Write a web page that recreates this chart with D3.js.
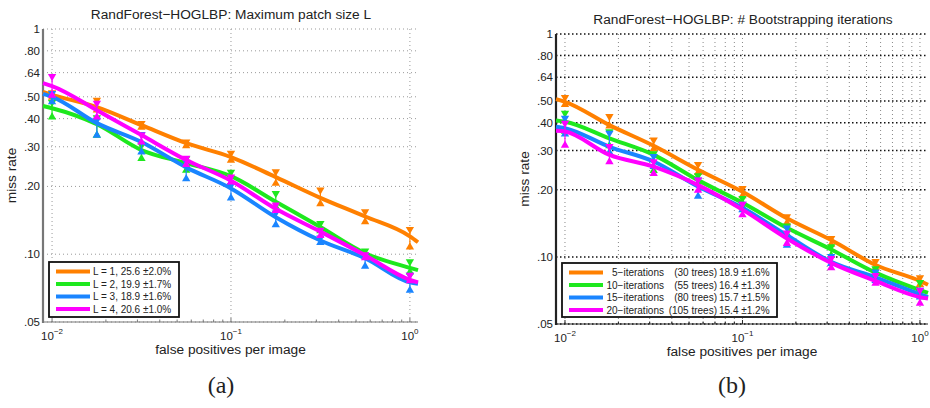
<!DOCTYPE html>
<html><head><meta charset="utf-8">
<script src="https://cdn.jsdelivr.net/npm/d3@7"></script>
<style>body{margin:0;background:#fff}svg{display:block}</style>
</head><body>
<svg id="chart" width="930" height="408"></svg>
<script>
// ---------- data ----------
const curveX = [0.0089, 0.01, 0.0178, 0.0316, 0.0562, 0.1, 0.178, 0.316, 0.562, 1, 1.11];
const markerX = [0.01, 0.0178, 0.0316, 0.0562, 0.1, 0.178, 0.316, 0.562, 1];
const yTicks = [1, 0.8, 0.64, 0.5, 0.4, 0.3, 0.2, 0.1, 0.05];
const yTickLabels = ["1", ".80", ".64", ".50", ".40", ".30", ".20", ".10", ".05"];
const xTicks = [0.01, 0.1, 1];
const xTickExp = ["\u22122", "\u22121", "0"];
const colors = ["#ff8000", "#1ee81e", "#1a85ff", "#ff00ff"];

// Panel (a): Maximum patch size L
const titleA = "RandForest\u2212HOGLBP: Maximum patch size L";
const legendA = ["L = 1, 25.6 \u00b12.0%", "L = 2, 19.9 \u00b11.7%", "L = 3, 18.9 \u00b11.6%", "L = 4, 20.6 \u00b11.0%"];
const aL1 = [0.525, 0.51, 0.45, 0.374, 0.311, 0.27, 0.22, 0.178, 0.147, 0.12, 0.113];
const aL2 = [0.455, 0.445, 0.378, 0.29, 0.254, 0.222, 0.171, 0.132, 0.101, 0.087, 0.085];
const aL3 = [0.515, 0.5, 0.382, 0.315, 0.243, 0.196, 0.146, 0.115, 0.096, 0.075, 0.074];
const aL4 = [0.575, 0.558, 0.436, 0.338, 0.262, 0.212, 0.159, 0.126, 0.099, 0.077, 0.075];
const aL1Hi = [0.53, 0.49, 0.387, 0.32, 0.285, 0.236, 0.196, 0.157, 0.131];
const aL1Lo = [0.49, 0.43, 0.36, 0.298, 0.257, 0.203, 0.165, 0.137, 0.106];
const aL2Hi = [0.48, 0.41, 0.31, 0.27, 0.235, 0.189, 0.139, 0.105, 0.094];
const aL2Lo = [0.40, 0.332, 0.262, 0.232, 0.205, 0.16, 0.125, 0.097, 0.082];
const aL3Hi = [0.525, 0.40, 0.346, 0.26, 0.205, 0.155, 0.12, 0.1, 0.082];
const aL3Lo = [0.467, 0.332, 0.28, 0.213, 0.175, 0.133, 0.111, 0.087, 0.068];
const aL4Hi = [0.625, 0.476, 0.344, 0.271, 0.224, 0.168, 0.13, 0.101, 0.082];
const aL4Lo = [0.50, 0.40, 0.31, 0.246, 0.206, 0.154, 0.119, 0.095, 0.075];

// Panel (b): # Bootstrapping iterations
const titleB = "RandForest\u2212HOGLBP: # Bootstrapping iterations";
const legendBIter = ["5\u2212iterations", "10\u2212iterations", "15\u2212iterations", "20\u2212iterations"];
const legendBTrees = ["(30 trees)", "(55 trees)", "(80 trees)", "(105 trees)"];
const legendBScore = ["18.9 \u00b11.6%", "16.4 \u00b11.3%", "15.7 \u00b11.5%", "15.4 \u00b11.2%"];
const bI5 = [0.51, 0.496, 0.39, 0.315, 0.246, 0.196, 0.149, 0.119, 0.092, 0.078, 0.075];
const bI10 = [0.409, 0.404, 0.34, 0.287, 0.221, 0.175, 0.135, 0.108, 0.085, 0.071, 0.069];
const bI15 = [0.384, 0.378, 0.312, 0.268, 0.207, 0.166, 0.125, 0.095, 0.081, 0.068, 0.066];
const bI20 = [0.368, 0.365, 0.287, 0.254, 0.21, 0.163, 0.121, 0.094, 0.078, 0.066, 0.065];
const bI5Hi = [0.527, 0.433, 0.34, 0.264, 0.206, 0.154, 0.123, 0.097, 0.082];
const bI5Lo = [0.475, 0.38, 0.30, 0.235, 0.185, 0.14, 0.112, 0.088, 0.074];
const bI10Hi = [0.448, 0.37, 0.295, 0.235, 0.186, 0.14, 0.113, 0.09, 0.078];
const bI10Lo = [0.36, 0.31, 0.24, 0.21, 0.165, 0.125, 0.1, 0.08, 0.068];
const bI15Hi = [0.426, 0.365, 0.287, 0.225, 0.175, 0.137, 0.102, 0.087, 0.072];
const bI15Lo = [0.35, 0.29, 0.25, 0.184, 0.16, 0.111, 0.092, 0.077, 0.065];
const bI20Hi = [0.404, 0.318, 0.272, 0.225, 0.175, 0.13, 0.1, 0.084, 0.072];
const bI20Lo = [0.312, 0.263, 0.233, 0.196, 0.152, 0.113, 0.088, 0.075, 0.061];

// ---------- drawing ----------
const svg = d3.select("#chart");
const FONT = "'Liberation Sans', Arial, Helvetica, sans-serif";

function drawPanel(p) {
  const g = svg.append("g");
  const x = d3.scaleLog().domain([curveX[0], curveX[curveX.length - 1]]).range([p.left, p.right]);
  const y = d3.scaleLog().domain([0.05, 1]).range([p.bottom, p.top]);

  // vertical grid
  const allTicks = x.ticks().filter(t => t >= 0.00999 && t <= 1.0001);
  const vGrid = p.minorGrid ? allTicks : xTicks;
  g.selectAll(".vg").data(vGrid).join("line")
    .attr("x1", d => x(d)).attr("x2", d => x(d))
    .attr("y1", p.top).attr("y2", p.bottom)
    .attr("stroke", p.vGridColor).attr("stroke-width", 1)
    .attr("stroke-dasharray", "1,3");
  // horizontal grid
  g.selectAll(".hg").data(yTicks).join("line")
    .attr("x1", p.left).attr("x2", p.right)
    .attr("y1", d => y(d)).attr("y2", d => y(d))
    .attr("stroke", p.hGridColor).attr("stroke-width", p.hGridWidth)
    .attr("stroke-dasharray", p.hGridDash);

  // axes
  g.append("line").attr("x1", p.left).attr("x2", p.right).attr("y1", p.bottom).attr("y2", p.bottom)
    .attr("stroke", p.axisColor).attr("stroke-width", 1.2);
  g.selectAll(".mt").data(allTicks).join("line")
    .attr("x1", d => x(d)).attr("x2", d => x(d))
    .attr("y1", p.bottom).attr("y2", d => xTicks.includes(d) ? p.bottom - 4 : p.bottom - 2.5)
    .attr("stroke", p.axisColor).attr("stroke-width", 1);
  g.append("line").attr("x1", p.left).attr("x2", p.left).attr("y1", p.top).attr("y2", p.bottom + 1)
    .attr("stroke", p.axisColor).attr("stroke-width", 2.2);

  // y tick labels
  g.selectAll(".yl").data(yTicks).join("text")
    .attr("x", p.left - 3).attr("y", d => y(d) + 4)
    .attr("text-anchor", "end").attr("font-family", FONT).attr("font-size", 11.5).attr("fill", "#222")
    .text((d, i) => yTickLabels[i]);
  // x tick labels
  const xl = g.selectAll(".xl").data(xTicks).join("text")
    .attr("x", d => x(d)).attr("y", p.bottom + 18)
    .attr("text-anchor", "middle").attr("font-family", FONT).attr("font-size", 11.5).attr("fill", "#222");
  xl.append("tspan").text("10");
  xl.append("tspan").attr("dy", -6).attr("font-size", 8).text((d, i) => xTickExp[i]);

  // axis titles
  g.append("text").attr("x", (p.left + p.right) / 2).attr("y", p.bottom + 32)
    .attr("text-anchor", "middle").attr("font-family", FONT).attr("font-size", 13.7).attr("fill", "#222")
    .text("false positives per image");
  g.append("text").attr("transform", `translate(${p.left - 27},${(p.top + p.bottom) / 2}) rotate(-90)`)
    .attr("text-anchor", "middle").attr("font-family", FONT).attr("font-size", 13.7).attr("fill", "#222")
    .text("miss rate");
  g.append("text").attr("x", p.titleX).attr("y", p.titleY)
    .attr("text-anchor", "middle").attr("font-family", FONT).attr("font-size", 13.7).attr("fill", "#222")
    .text(p.title);

  // curves
  const line = d3.line().x((d, i) => x(curveX[i])).y(d => y(d)).curve(d3.curveMonotoneX);
  p.series.forEach((s, k) => {
    g.append("path").attr("d", line(s.values)).attr("fill", "none")
      .attr("stroke", colors[k]).attr("stroke-width", 4).attr("stroke-linejoin", "round");
    const eg = g.append("g");
    markerX.forEach((mx, i) => {
      eg.append("line").attr("x1", x(mx)).attr("x2", x(mx))
        .attr("y1", y(s.hi[i])).attr("y2", y(s.lo[i]))
        .attr("stroke", colors[k]).attr("stroke-width", 1.2);
      eg.append("path").attr("d", d3.symbol(d3.symbolTriangle, 30)())
        .attr("transform", `translate(${x(mx)},${y(s.hi[i]) + 1.5}) rotate(180)`)
        .attr("fill", colors[k]);
      eg.append("path").attr("d", d3.symbol(d3.symbolTriangle, 30)())
        .attr("transform", `translate(${x(mx)},${y(s.lo[i]) - 1.5})`)
        .attr("fill", colors[k]);
    });
  });

  // legend
  const lg = g.append("g");
  lg.append("rect").attr("x", p.leg.x).attr("y", p.leg.y).attr("width", p.leg.w).attr("height", p.leg.h)
    .attr("fill", "#fff").attr("stroke", "#111").attr("stroke-width", 1.8);
  p.series.forEach((s, k) => {
    const cy = p.leg.y + 9.5 + k * 12.5;
    lg.append("line").attr("x1", p.leg.x + 7).attr("x2", p.leg.x + p.leg.lineW)
      .attr("y1", cy).attr("y2", cy).attr("stroke", colors[k]).attr("stroke-width", 4);
    p.leg.text(lg, k, cy + 3.6);
  });
}

drawPanel({
  left: 43, right: 418, top: 29, bottom: 322,
  title: titleA, titleX: 231, titleY: 19,
  minorGrid: false, vGridColor: "#999", hGridColor: "#999", hGridWidth: 1, hGridDash: "1,3",
  axisColor: "#777",
  series: [
    {values: aL1, hi: aL1Hi, lo: aL1Lo},
    {values: aL2, hi: aL2Hi, lo: aL2Lo},
    {values: aL3, hi: aL3Hi, lo: aL3Lo},
    {values: aL4, hi: aL4Hi, lo: aL4Lo}
  ],
  leg: {x: 49, y: 262, w: 130, h: 55, lineW: 41,
    text: (lg, k, ty) => lg.append("text").attr("x", 93).attr("y", ty)
      .attr("font-family", FONT).attr("font-size", 10).attr("fill", "#222").text(legendA[k])}
});

drawPanel({
  left: 556, right: 928, top: 34, bottom: 324,
  title: titleB, titleX: 743, titleY: 24,
  minorGrid: true, vGridColor: "#888", hGridColor: "#111", hGridWidth: 1.5, hGridDash: "1.5,2.5",
  axisColor: "#222",
  series: [
    {values: bI5, hi: bI5Hi, lo: bI5Lo},
    {values: bI10, hi: bI10Hi, lo: bI10Lo},
    {values: bI15, hi: bI15Hi, lo: bI15Lo},
    {values: bI20, hi: bI20Hi, lo: bI20Lo}
  ],
  leg: {x: 562, y: 263, w: 215, h: 54, lineW: 41,
    text: (lg, k, ty) => {
      const f = t => t.attr("font-family", FONT).attr("font-size", 10).attr("fill", "#222");
      f(lg.append("text").attr("x", 664).attr("y", ty).attr("text-anchor", "end").text(legendBIter[k]));
      f(lg.append("text").attr("x", 717).attr("y", ty).attr("text-anchor", "end").text(legendBTrees[k]));
      f(lg.append("text").attr("x", 719).attr("y", ty).text(legendBScore[k]));
    }}
});

// sub-figure captions
svg.append("text").attr("x", 221).attr("y", 393).attr("text-anchor", "middle")
  .attr("font-family", "'Liberation Serif', 'Times New Roman', serif").attr("font-size", 24).attr("fill", "#222").text("(a)");
svg.append("text").attr("x", 732).attr("y", 393).attr("text-anchor", "middle")
  .attr("font-family", "'Liberation Serif', 'Times New Roman', serif").attr("font-size", 24).attr("fill", "#222").text("(b)");
</script>
</body></html>
